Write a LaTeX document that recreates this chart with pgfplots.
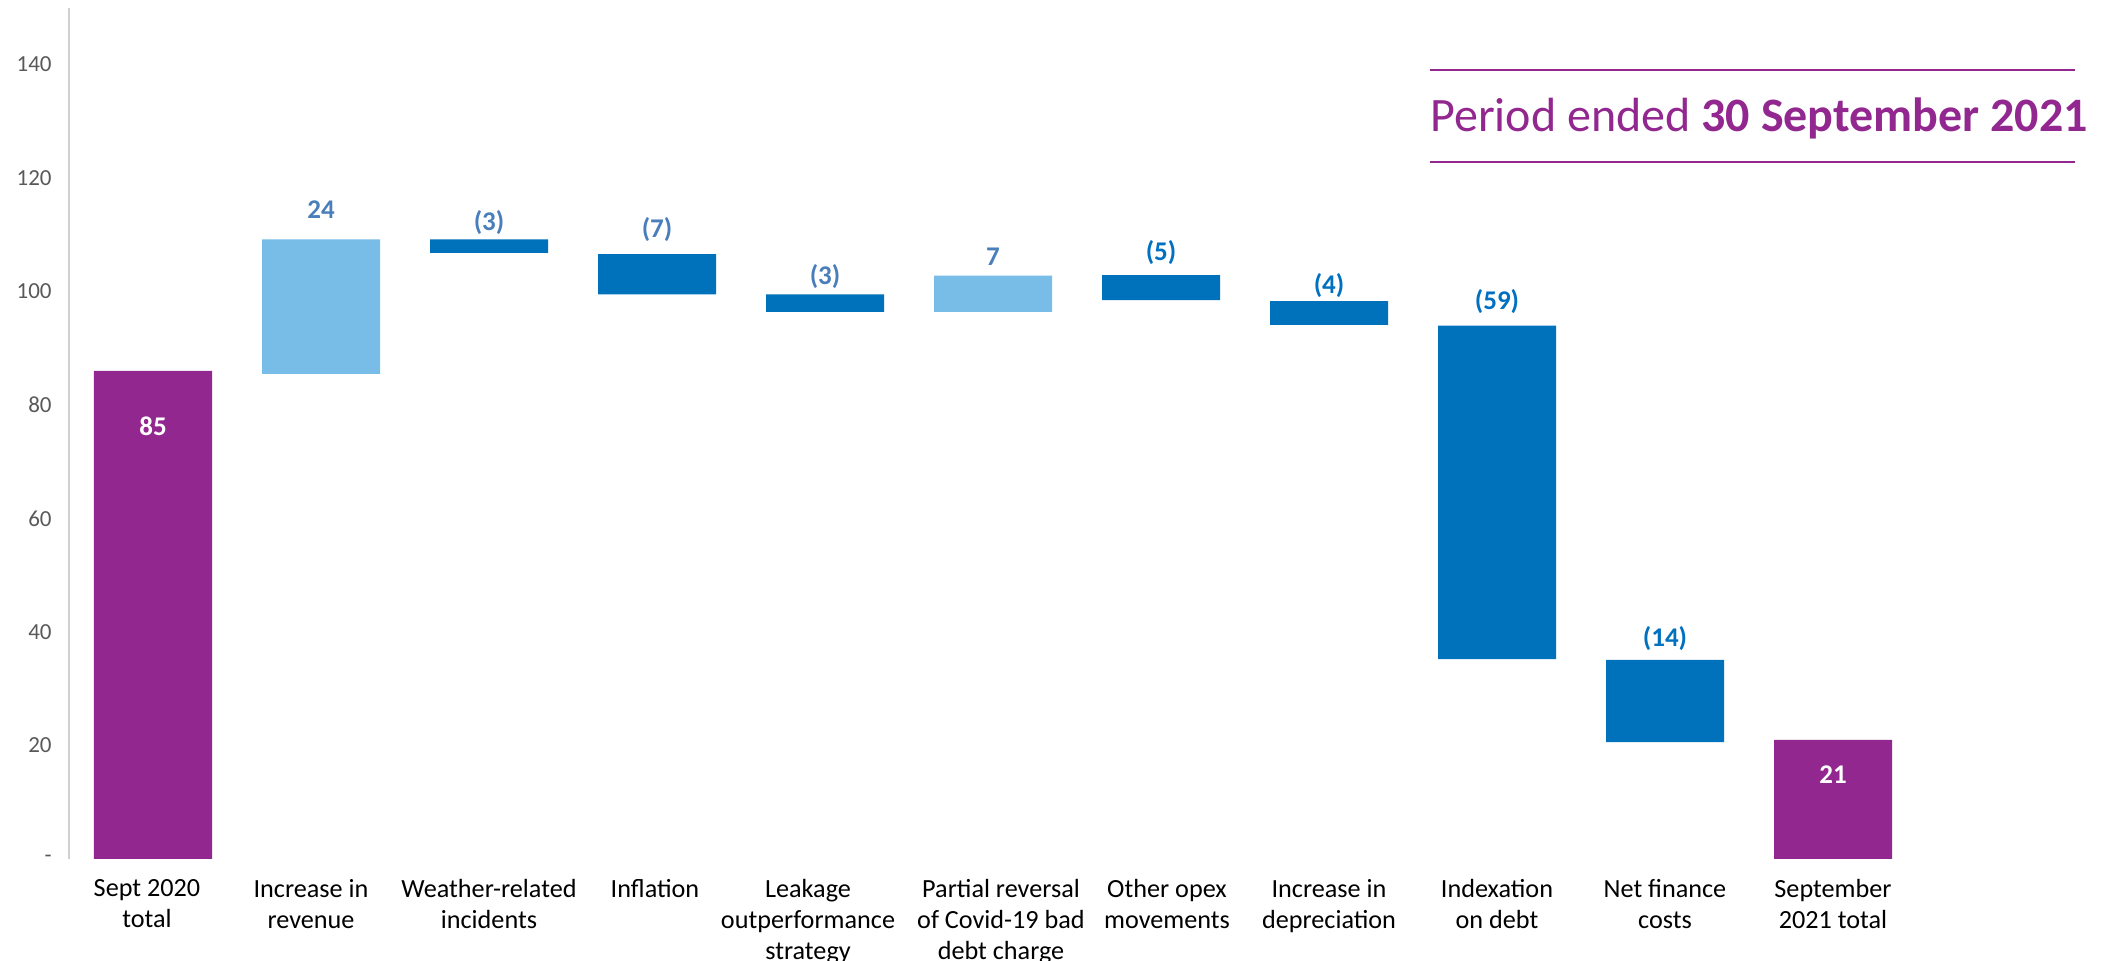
\documentclass[border=0pt]{standalone}
\usepackage{pgfplots}
\pgfplotsset{compat=1.18}
\usepackage{pgfplotstable}
\usepackage{fontspec}
\setmainfont{Carlito}
\definecolor{cpurple}{HTML}{92278F}
\definecolor{clight}{HTML}{77BDE8}
\definecolor{cdark}{HTML}{0071BB}
\definecolor{labsteel}{HTML}{4A7EBB}
\definecolor{labdark}{HTML}{0070C0}
\definecolor{tickgray}{HTML}{595959}
\definecolor{axgray}{HTML}{D0D0D0}

\pgfplotstableread{
x  base   purple light dark
0  0      86.0   0     0
1  85.5   0      23.7  0
2  106.8  0      0     2.4
3  99.5   0      0     7.1
4  96.4   0      0     3.1
5  96.4   0      6.4   0
6  98.5   0      0     4.4
7  94.1   0      0     4.2
8  35.2   0      0     58.8
9  20.6   0      0     14.5
10 0      21.0   0     0
}\bars

\pgfplotstableread{
x  y      lab
0  76.3   85
10 14.8   21
}\labwhite

\pgfplotstableread{
x  y      lab
1  114.4  24
2  112.1  (3)
3  111.0  (7)
4  102.7  (3)
5  106.1  7
}\labsteel

\pgfplotstableread{
x  y      lab
6  106.8  (5)
7  101.1  (4)
8  98.3   (59)
9  38.8   (14)
}\labdark

\begin{document}
\begin{tikzpicture}
\pgfplotsset{
  common/.style={
    scale only axis,
    width=924pt, height=425.6pt,
    xmin=-0.5, xmax=10.5, ymin=0, ymax=150,
    clip=false,
  }
}
\begin{axis}[
  common,
  ybar stacked,
  bar width=59pt,
  axis line style={draw=none},
  major tick length=0pt,
  xtick={0,1,2,3,4,5,6,7,8,9,10},
  xticklabels={{Sept 2020\\total},{Increase in\\revenue},{Weather-related\\incidents},{Inflation},{Leakage\\outperformance\\strategy},{Partial reversal\\of Covid-19 bad\\debt charge},{Other opex\\movements},{Increase in\\depreciation},{Indexation\\on debt},{Net finance\\costs},{September\\2021 total}},
  xticklabel style={align=center, font=\fontsize{13.1}{15.5}\selectfont, text=black, inner sep=0pt, yshift=-10pt,
    xshift={{-3,-5,0,-1,-8.5,4,3,0,0,0,0}[\ticknum]}},
  ytick={0,20,40,60,80,100,120,140},
  yticklabels={-,20,40,60,80,100,120,140},
  yticklabel style={font=\fontsize{11.5}{13}\selectfont, text=tickgray, inner sep=0pt, xshift=-8.5pt},
]
\addplot[draw=none, fill=none] table[x=x, y=base] {\bars};
\addplot[draw=none, fill=cpurple] table[x=x, y=purple] {\bars};
\addplot[draw=none, fill=clight] table[x=x, y=light] {\bars};
\addplot[draw=none, fill=cdark] table[x=x, y=dark] {\bars};
\draw[axgray, line width=0.9pt] (axis cs:-0.5,0) -- (axis cs:-0.5,150);
\draw[cpurple, line width=0.8pt] (axis cs:7.601,139) -- (axis cs:11.44,139);
\draw[cpurple, line width=0.8pt] (axis cs:7.601,122.8) -- (axis cs:11.44,122.8);
\node[anchor=west, inner sep=0pt, text=cpurple, font=\fontsize{24}{28}\selectfont] at (axis cs:7.601,130.5) {Period ended \textbf{30 September 2021}};
\end{axis}
\begin{axis}[
  common,
  hide axis,
  nodes near coords,
  point meta=explicit symbolic,
  every node near coord/.append style={anchor=center, inner sep=0pt, font=\fontsize{13.5}{16}\selectfont\bfseries},
]
\addplot[draw=none, mark=none, nodes near coords, every node near coord/.append style={text=white}] table[x=x, y=y, meta=lab] {\labwhite};
\addplot[draw=none, mark=none, nodes near coords, every node near coord/.append style={text=labsteel}] table[x=x, y=y, meta=lab] {\labsteel};
\addplot[draw=none, mark=none, nodes near coords, every node near coord/.append style={text=labdark}] table[x=x, y=y, meta=lab] {\labdark};
\end{axis}
\pgfresetboundingbox
\path[use as bounding box] ([xshift=-34.5pt,yshift=-51pt]current axis.south west) rectangle ([xshift=97pt,yshift=3.9pt]current axis.north east);
\end{tikzpicture}
\end{document}
